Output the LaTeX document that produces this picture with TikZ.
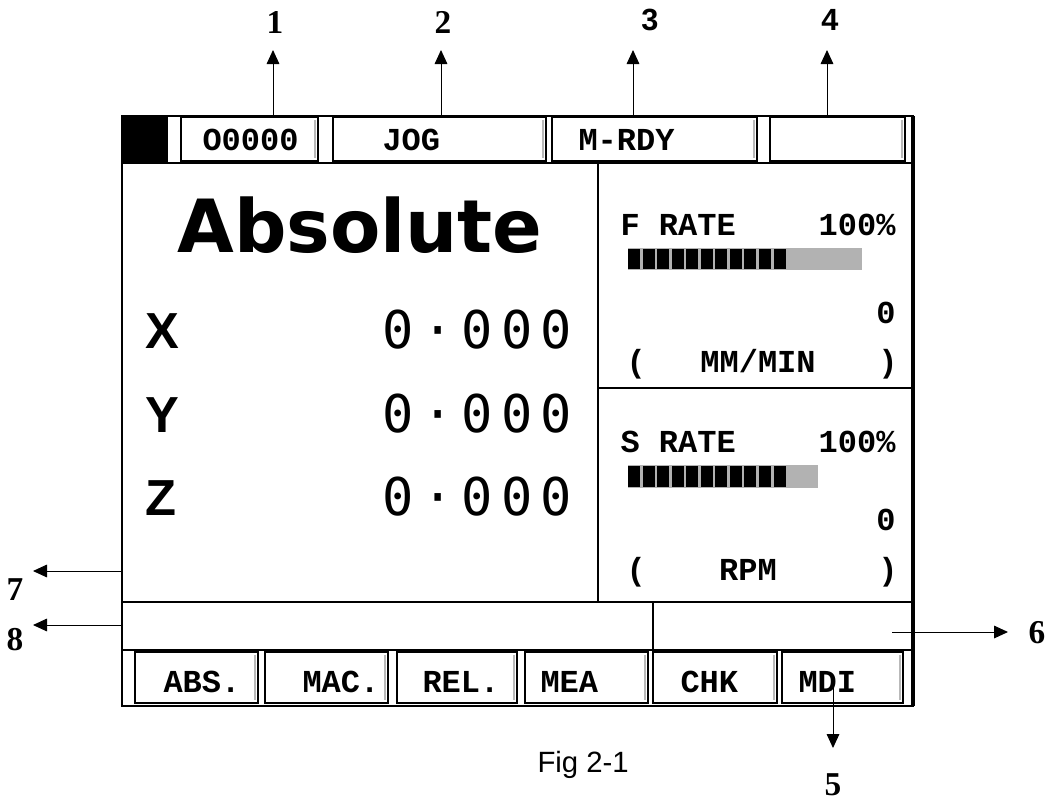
\documentclass[tikz,border=0pt]{standalone}
\usepackage{fontspec}
\setmainfont{Liberation Serif}
\newfontfamily\lcdfont{Liberation Mono}
\newfontfamily\titlefont{DejaVu Sans}
\newfontfamily\axisfont{Liberation Sans}
\newfontfamily\digitfont[LetterSpace=16]{DejaVu Sans Mono}
\usetikzlibrary{arrows.meta,positioning}

\tikzset{every picture/.style={line width=0.75pt}}
\tikzset{
  pointer/.style={-{Triangle[length=10.5pt,width=9.5pt]}},
  callout/.style={font=\bfseries\fontsize{25}{25}\selectfont, inner sep=0pt, anchor=base},
  callsans/.style={font=\axisfont\bfseries\fontsize{23}{23}\selectfont, inner sep=0pt, anchor=base},
  lcd/.style={font=\lcdfont\bfseries\fontsize{24}{24}\selectfont, inner sep=0pt},
  axis/.style={font=\axisfont\bfseries\fontsize{38}{38}\selectfont, inner sep=0pt, anchor=base west},
  readout/.style={font=\digitfont\fontsize{39}{39}\selectfont, inner sep=0pt, anchor=base west},
  tabbox/.style={draw, line width=1.5pt},
  bevel/.style={draw=gray!55, line width=2.2pt},
  frame/.style={draw, line width=1.3pt},
}

\begin{document}
\begin{tikzpicture}[x=0.75pt,y=0.75pt,yscale=-1,xscale=1]
	\useasboundingbox (0,0) rectangle (1048,804);
	
	%Shape: Screen frame
	\draw [frame] (122,116) rectangle (913,706) ;
	\draw [line width=2.4pt] (913,116) -- (913,706) ;
	%Straight Lines: header bottom
	\draw [frame] (122,163) -- (913,163) ;
	%Straight Lines: panel dividers
	\draw [frame] (598,163) -- (598,602) ;
	\draw [frame] (598,388) -- (913,388) ;
	%Straight Lines: message bar
	\draw [frame] (122,602) -- (913,602) ;
	\draw [frame] (653,602) -- (653,650) ;
	%Straight Lines: soft key bar
	\draw [frame] (122,650) -- (913,650) ;
	%Shape: black square
	\fill (122,116) rectangle (168,162) ;
	
	%Shape: header tabs
	\foreach \xa/\xb/\txt/\xt [count=\i] in {181/318/O0000/202, 333/546/JOG/382, 552/757/M-RDY/578, 770/905/{}/790} {
		\draw [tabbox] (\xa,117) rectangle (\xb,161) ;
		\draw [bevel] (\xb-3,120) -- (\xb-3,158) ;
		\node [lcd, anchor=base west] (tab\i) at (\xt,150) {\txt};
	}
	
	%Shape: soft keys
	\foreach \xa/\xb/\txt/\xt [count=\i] in {135/258/ABS./163, 265/388/MAC./302, 397/517/REL./422, 525/648/MEA/540, 653/777/CHK/680, 782/903/MDI/798} {
		\draw [tabbox] (\xa,652) rectangle (\xb,703) ;
		\draw [bevel] (\xb-3,655) -- (\xb-3,700) ;
		\node [lcd, anchor=base west] (key\i) at (\xt,692) {\txt};
	}
	
	% Text Node
	\node [font=\titlefont\bfseries\fontsize{55}{55}\selectfont, inner sep=0pt, anchor=base] (title) at (360,252) {Absolute};
	% Text Node
	\node [axis] (axx) at (145,348) {X};
	\node [axis] (axy) at (145,432) {Y};
	\node [axis] (axz) at (145,515) {Z};
	% Text Node
	\node [readout] (valx) at (382,348) {0·000};
	\node [readout] (valy) at (382,432) {0·000};
	\node [readout] (valz) at (382,515) {0·000};
	
	% Text Node: feed panel
	\node [lcd, anchor=base west] (frate) at (620,235) {F RATE};
	\node [lcd, anchor=base east] (fpct) at (896,235) {100\%};
	\fill [gray!60] (628,248) rectangle (862,270) ;
	\foreach \k in {0,...,10} {
		\fill (628+\k*14.55,249) rectangle (640+\k*14.55,269) ;
	}
	\node [lcd, anchor=base east] (fval) at (896,323) {0};
	\node [lcd, anchor=base west] (fopen) at (626,372) {(};
	\node [lcd, anchor=base] (funit) at (758,372) {MM/MIN};
	\node [lcd, anchor=base east] (fclose) at (898,372) {)};
	
	% Text Node: spindle panel
	\node [lcd, anchor=base west] (srate) at (620,452) {S RATE};
	\node [lcd, anchor=base east] (spct) at (896,452) {100\%};
	\fill [gray!60] (628,465) rectangle (818,488) ;
	\foreach \k in {0,...,10} {
		\fill (628+\k*14.55,466) rectangle (640+\k*14.55,487) ;
	}
	\node [lcd, anchor=base east] (sval) at (896,530) {0};
	\node [lcd, anchor=base west] (sopen) at (626,580) {(};
	\node [lcd, anchor=base] (sunit) at (748,580) {RPM};
	\node [lcd, anchor=base east] (sclose) at (898,580) {)};
	
	%Straight Lines: callout arrows
	\coordinate (p1) at (273,116) ; \coordinate (t1) at (273,50) ;
	\coordinate (p2) at (441,116) ; \coordinate (t2) at (441,50) ;
	\coordinate (p3) at (633,116) ; \coordinate (t3) at (633,50) ;
	\coordinate (p4) at (827,116) ; \coordinate (t4) at (827,50) ;
	\coordinate (p5) at (833,684) ; \coordinate (t5) at (833,748) ;
	\coordinate (p6) at (892,632) ; \coordinate (t6) at (1008,632) ;
	\coordinate (p7) at (122,571) ; \coordinate (t7) at (33,571) ;
	\coordinate (p8) at (122,625) ; \coordinate (t8) at (33,625) ;
	\foreach \i in {1,...,8} {
		\draw [pointer] (p\i) -- (t\i) ;
	}
	
	% Text Node: callout numbers
	\node [callout] (lab1) at (275,33) {1};
	\node [callout] (lab2) at (443,33) {2};
	\node [callsans] (lab3) at (650,30) {3};
	\node [callsans] (lab4) at (830,30) {4};
	\node [callout] (lab5) at (833,795) {5};
	\node [callout] (lab6) at (1037,643) {6};
	\node [callout] (lab7) at (15,600) {7};
	\node [callout] (lab8) at (15,650) {8};
	
	% Text Node
	\node [font=\axisfont\fontsize{22}{22}\selectfont, inner sep=0pt, anchor=base west] (caption) at (537,772) {Fig 2-1};
	
\end{tikzpicture}
\end{document}
